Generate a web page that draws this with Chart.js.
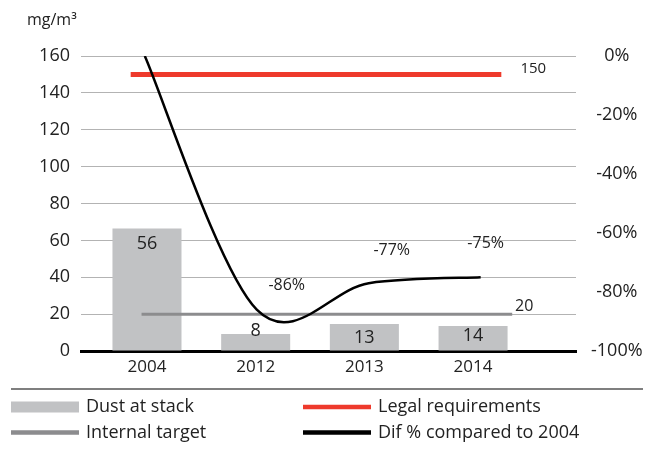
<!DOCTYPE html>
<html>
<head>
<meta charset="utf-8">
<script src="https://cdn.jsdelivr.net/npm/chart.js@4.4.0/dist/chart.umd.min.js"></script>
<style>
  body { margin: 0; background: #fff; }
  #wrap { width: 658px; height: 453px; position: relative; }
</style>
</head>
<body>
<div id="wrap"><canvas id="dustChart"></canvas></div>
<script>
// data
const years = ['2004', '2012', '2013', '2014'];
const dustValues = [66.5, 9.2, 14.6, 13.6];
const dustLabels = ['56', '8', '13', '14'];
const difX = [-0.02, 1.01, 2.04, 3.07];
const difValues = [0, -86, -77, -75];
const difLabels = ['', '-86%', '-77%', '-75%'];
const legalLimit = 150;
const internalTarget = 20;
const legalSpan = [-0.15, 3.26];
const targetSpan = [-0.05, 3.36];
const leftTicks = [0, 20, 40, 60, 80, 100, 120, 140, 160];
const rightTicks = [0, -20, -40, -60, -80, -100];

const FONT = "'Open Sans', sans-serif";
const TEXT = '#222';

const toXY = (vals, xs) => vals.map((v, i) => ({ x: xs ? xs[i] : i, y: v }));
const span = (s, v) => [{ x: s[0], y: v }, { x: s[1], y: v }];

// spreadsheet-style smoothing: uniform Catmull-Rom control points
const smoothPlugin = {
    id: 'excelSmooth',
    beforeDatasetDraw(chart, args) {
        if (args.index !== 3) return;
        const line = args.meta.dataset;
        line.updateControlPoints(chart.chartArea);
        const pts = args.meta.data;
        pts.forEach((p, i) => {
            const prev = pts[Math.max(i - 1, 0)];
            const next = pts[Math.min(i + 1, pts.length - 1)];
            const dx = (next.x - prev.x) / 6, dy = (next.y - prev.y) / 6;
            p.cp1x = p.x - dx; p.cp1y = p.y - dy;
            p.cp2x = p.x + dx; p.cp2y = p.y + dy;
        });
        line._path = undefined;
    }
};

// labels on bars / line points and at the end of the limit lines
const textPlugin = {
    id: 'texts',
    afterDatasetsDraw(chart, args, opts) {
        const ctx = chart.ctx;
        ctx.save();
        ctx.fillStyle = TEXT;
        ctx.textAlign = 'center';
        ctx.textBaseline = 'middle';

        const bars = chart.getDatasetMeta(0).data;
        ctx.font = '18px ' + FONT;
        bars.forEach((b, i) => ctx.fillText(dustLabels[i], b.x, b.y + opts.barOffsets[i]));

        const pts = chart.getDatasetMeta(3).data;
        ctx.font = '16px ' + FONT;
        pts.forEach((p, i) => {
            const o = opts.lineOffsets[i];
            if (difLabels[i]) ctx.fillText(difLabels[i], p.x + o[0], p.y + o[1]);
        });

        [[1, String(legalLimit), opts.legalOffset], [2, String(internalTarget), opts.targetOffset]].forEach(([di, txt, o]) => {
            const d = chart.getDatasetMeta(di).data;
            const end = d[d.length - 1];
            ctx.font = o[2] + 'px ' + FONT;
            ctx.fillText(txt, end.x + o[0], end.y + o[1]);
        });

        ctx.font = '16px ' + FONT;
        ctx.textAlign = 'left';
        ctx.fillText('mg/m³', 27, 20);
        ctx.restore();
    }
};

// legend below a separator rule, two columns
const legendPlugin = {
    id: 'bottomLegend',
    afterDraw(chart, args, opts) {
        const ctx = chart.ctx;
        ctx.save();
        ctx.strokeStyle = '#555';
        ctx.lineWidth = 1.5;
        ctx.beginPath();
        ctx.moveTo(11, 389);
        ctx.lineTo(643, 389);
        ctx.stroke();

        ctx.font = '18px ' + FONT;
        ctx.textBaseline = 'middle';
        opts.items.forEach(it => {
            const ds = chart.data.datasets[it.ds];
            const x = opts.cols[it.col];
            const y = opts.rows[it.row];
            ctx.fillStyle = ds.type === 'bar' ? ds.backgroundColor : ds.borderColor;
            const h = ds.type === 'bar' ? 11 : 4.5;
            ctx.fillRect(x, y - h / 2, 68, h);
            ctx.fillStyle = TEXT;
            ctx.fillText(ds.label, x + 75, y);
        });
        ctx.restore();
    }
};

new Chart(document.getElementById('dustChart'), {
    data: {
        datasets: [
            {
                type: 'bar',
                label: 'Dust at stack',
                data: toXY(dustValues),
                backgroundColor: '#c1c2c4',
                barPercentage: 0.635,
                categoryPercentage: 1,
                yAxisID: 'y',
                order: 4
            },
            {
                type: 'line',
                label: 'Legal requirements',
                data: span(legalSpan, legalLimit),
                borderColor: '#ee3a2c',
                borderWidth: 5,
                pointRadius: 0,
                borderCapStyle: 'butt',
                yAxisID: 'y',
                order: 2
            },
            {
                type: 'line',
                label: 'Internal target',
                data: span(targetSpan, internalTarget),
                borderColor: '#8c8c8e',
                borderWidth: 3,
                pointRadius: 0,
                yAxisID: 'y',
                order: 3
            },
            {
                type: 'line',
                label: 'Dif % compared to 2004',
                data: toXY(difValues, difX),
                borderColor: '#000',
                borderWidth: 2.5,
                pointRadius: 0,
                tension: 0.4,
                yAxisID: 'y2',
                order: 1
            }
        ]
    },
    options: {
        responsive: true, maintainAspectRatio: false,
        animation: false,
        layout: { padding: { top: 56, left: 0, right: 0, bottom: 0 } },
        plugins: {
            legend: { display: false },
            tooltip: { enabled: false },
            texts: {
                barOffsets: [15, -3, 14, 10],
                lineOffsets: [[0, 0], [30, -24], [23, -33], [5, -34]],
                legalOffset: [32, -6, 15],
                targetOffset: [12, -8, 16]
            },
            bottomLegend: {
                cols: [11, 303],
                rows: [407, 432.5],
                items: [
                    { ds: 0, col: 0, row: 0 },
                    { ds: 2, col: 0, row: 1 },
                    { ds: 1, col: 1, row: 0 },
                    { ds: 3, col: 1, row: 1 }
                ]
            }
        },
        scales: {
            x: {
                type: 'linear',
                offset: false,
                min: -0.607, max: 3.947,
                afterBuildTicks: (axis) => { axis.ticks = years.map((_, i) => ({ value: i })); },
                afterFit: (axis) => { axis.height = 102; },
                ticks: {
                    callback: (v) => years[v],
                    font: { family: FONT, size: 17 },
                    color: TEXT,
                    padding: 6,
                    maxRotation: 0
                },
                grid: { display: false, offset: false, drawTicks: false },
                border: { display: true, color: '#000', width: 3 }
            },
            y: {
                position: 'left',
                min: 0, max: 160,
                afterBuildTicks: (axis) => { axis.ticks = leftTicks.map(v => ({ value: v })); },
                afterFit: (axis) => { axis.width = 81; },
                ticks: { font: { family: FONT, size: 18 }, color: TEXT, padding: 11 },
                grid: { color: '#b3b3b3', lineWidth: 1, drawTicks: false },
                border: { display: false }
            },
            y2: {
                position: 'right',
                min: -100, max: 0,
                afterBuildTicks: (axis) => { axis.ticks = rightTicks.map(v => ({ value: v })); },
                afterFit: (axis) => { axis.width = 82; },
                ticks: {
                    callback: (v) => v + '%',
                    font: { family: FONT, size: 18 },
                    color: TEXT,
                    padding: 15,
                    crossAlign: 'center'
                },
                grid: { display: false, drawTicks: false },
                border: { display: false }
            }
        }
    },
    plugins: [smoothPlugin, textPlugin, legendPlugin]
});
</script>
</body>
</html>
